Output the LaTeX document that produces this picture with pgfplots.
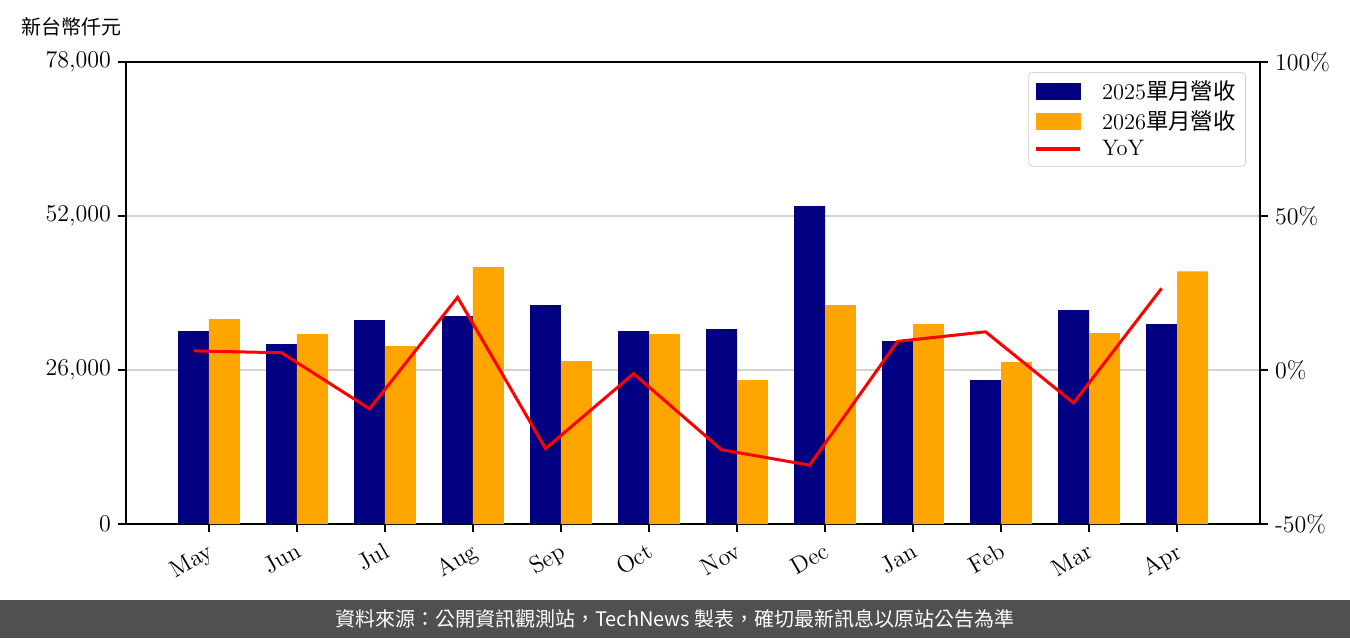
\documentclass[border=0pt]{standalone}
\usepackage{fontspec}
\usepackage{pgfplots}
\pgfplotsset{compat=1.18}
\newfontfamily\cjk{Noto Sans CJK TC}
\definecolor{navyc}{HTML}{000080}
\definecolor{orangec}{HTML}{FFA500}
\definecolor{footc}{HTML}{505050}
\definecolor{gridc}{HTML}{D3D3D3}
\begin{document}
\begin{tikzpicture}
\useasboundingbox (-63pt,-57pt) rectangle (612pt,262pt);
\fill[white] (-63pt,-57pt) rectangle (612pt,262pt);
\fill[footc] (-63pt,-57pt) rectangle (612pt,-38pt);
\node[text=white, font=\cjk\fontsize{10}{12}\selectfont] at (274.5pt,-47.5pt) {資料來源：公開資訊觀測站，TechNews 製表，確切最新訊息以原站公告為準};
\node[anchor=west, font=\cjk\fontsize{10}{12}\selectfont] at (-56pt,248.5pt) {新台幣仟元};

\begin{axis}[
  at={(0pt,0pt)}, anchor=south west, scale only axis,
  width=567pt, height=231pt,
  xmin=-0.943, xmax=11.943, ymin=0, ymax=78000,
  scaled y ticks=false,
  xtick={0,...,11},
  xticklabels={May,Jun,Jul,Aug,Sep,Oct,Nov,Dec,Jan,Feb,Mar,Apr},
  ytick={0,26000,52000,78000},
  yticklabels={0,{26,000},{52,000},{78,000}},
  xtick pos=bottom, ytick pos=left,
  tick align=outside, major tick length=4pt,
  axis line style={line width=1pt},
  every tick/.style={black, line width=1pt},
  ymajorgrids, grid style={gridc, line width=0.65pt},
  ticklabel style={font=\fontsize{12}{14}\selectfont},
  xticklabel style={rotate=30, anchor=north east, font=\fontsize{12}{14}\selectfont},
]
\addplot[ybar, bar width=0.35, bar shift=-0.175, fill=navyc, draw=none] coordinates {
(0,32570) (1,30380) (2,34430) (3,35090) (4,36940) (5,32570) (6,32900) (7,53650) (8,30890) (9,24310) (10,36100) (11,33750)};
\addplot[ybar, bar width=0.35, bar shift=0.175, fill=orangec, draw=none] coordinates {
(0,34590) (1,32060) (2,30040) (3,43360) (4,27510) (5,32060) (6,24310) (7,36940) (8,33750) (9,27350) (10,32230) (11,42670)};
\end{axis}

\begin{axis}[
  at={(0pt,0pt)}, anchor=south west, scale only axis,
  width=567pt, height=231pt,
  xmin=-0.943, xmax=11.943, ymin=-50, ymax=100,
  axis x line=none, axis y line*=right,
  ytick={-50,0,50,100},
  yticklabels={{-50\%},{0\%},{50\%},{100\%}},
  tick align=outside, major tick length=4pt,
  axis line style={line width=1pt},
  every tick/.style={black, line width=1pt},
  ticklabel style={font=\fontsize{12}{14}\selectfont},
  legend style={at={(1,1)}, anchor=north east, xshift=-7pt, yshift=-5pt,
    draw=gridc, rounded corners=2pt, fill=white, text opacity=1,
    font=\fontsize{11.2}{13}\selectfont, row sep=0pt, inner xsep=3pt, inner ysep=2pt,
    /tikz/every odd column/.style={column sep=8pt}},
  legend cell align=left,
]
\addlegendimage{legend image code/.code={\fill[navyc, sharp corners] (0pt,-4pt) rectangle (22pt,4pt);}}
\addlegendentry{2025{\cjk 單月營收}}
\addlegendimage{legend image code/.code={\fill[orangec, sharp corners] (0pt,-4pt) rectangle (22pt,4pt);}}
\addlegendentry{2026{\cjk 單月營收}}
\addplot[red, line width=1.5pt, mark=none,
  legend image code/.code={\draw[red, line width=1.7pt, sharp corners] (0pt,0pt) -- (22pt,0pt);}] coordinates {
(-0.175,6.2) (0.825,5.6) (1.825,-12.6) (2.825,23.6) (3.825,-25.5) (4.825,-1.2) (5.825,-25.9) (6.825,-30.9) (7.825,9.3) (8.825,12.4) (9.825,-10.7) (10.825,26.5)};
\addlegendentry{YoY}
\end{axis}
\end{tikzpicture}
\end{document}
